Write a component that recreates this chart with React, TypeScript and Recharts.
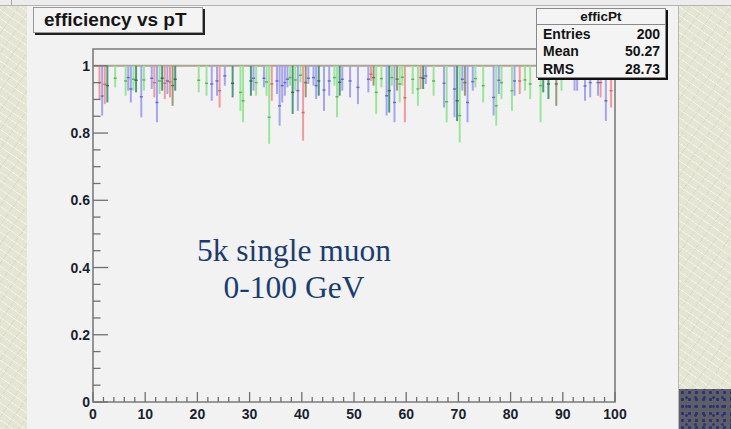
import React from 'react';
import { ComposedChart, XAxis, YAxis, Scatter, ErrorBar, ReferenceLine, ReferenceArea } from 'recharts';

// [bin centre pT, lower error end, efficiency]
type Bin = [number, number, number];

const redBins: Bin[] = [
  [1.25, 0.901, 0.95], [2.25, 0.886, 0.945], [11.75, 0.906, 0.95], [13.75, 0.901, 0.948],
  [14.75, 0.906, 0.952], [24.25, 0.876, 0.926], [34.25, 0.896, 0.946], [40.25, 0.777, 0.861],
  [53.25, 0.955, 0.975], [59.75, 0.832, 0.905], [62.75, 0.931, 0.965], [81.75, 0.916, 0.955],
  [96.25, 0.97, 0.985], [97.25, 0.906, 0.95], [99.25, 0.876, 0.926],
];

const greenBins: Bin[] = [
  [4.25, 0.936, 0.963], [6.25, 0.911, 0.955], [7.75, 0.926, 0.96], [9.75, 0.926, 0.958],
  [12.75, 0.916, 0.955], [20.25, 0.921, 0.957], [21.75, 0.911, 0.948], [28.25, 0.866, 0.921],
  [28.75, 0.832, 0.896], [31.25, 0.911, 0.95], [33.25, 0.911, 0.952], [33.75, 0.768, 0.847],
  [37.75, 0.941, 0.965], [38.75, 0.926, 0.958], [39.75, 0.951, 0.972], [46.25, 0.941, 0.965],
  [46.75, 0.847, 0.908], [54.25, 0.857, 0.921], [55.25, 0.936, 0.962], [57.25, 0.941, 0.965],
  [58.75, 0.891, 0.946], [59.25, 0.941, 0.966], [61.25, 0.916, 0.96], [62.25, 0.881, 0.931],
  [65.25, 0.911, 0.955], [67.75, 0.832, 0.893], [70.25, 0.772, 0.852], [73.25, 0.936, 0.962],
  [74.75, 0.891, 0.941], [77.25, 0.822, 0.881], [78.25, 0.901, 0.95], [80.25, 0.866, 0.926],
  [82.75, 0.926, 0.958], [83.75, 0.901, 0.946], [85.75, 0.832, 0.941], [89.75, 0.926, 0.96],
];

const blueBins: Bin[] = [
  [1.75, 0.852, 0.91], [6.75, 0.926, 0.965], [7.25, 0.891, 0.931], [9.25, 0.847, 0.908],
  [11.25, 0.931, 0.963], [12.25, 0.832, 0.891], [14.25, 0.916, 0.955], [22.75, 0.896, 0.946],
  [23.75, 0.911, 0.955], [25.25, 0.941, 0.97], [30.75, 0.926, 0.963], [32.75, 0.936, 0.963],
  [35.25, 0.916, 0.955], [35.75, 0.822, 0.881], [36.25, 0.891, 0.941], [36.75, 0.911, 0.95],
  [37.25, 0.936, 0.96], [39.25, 0.866, 0.926], [41.25, 0.946, 0.963], [42.25, 0.941, 0.965],
  [42.75, 0.901, 0.941], [44.25, 0.866, 0.928], [45.25, 0.911, 0.955], [47.75, 0.926, 0.96],
  [49.25, 0.906, 0.955], [50.75, 0.886, 0.936], [52.75, 0.921, 0.96], [56.25, 0.852, 0.911],
  [57.75, 0.832, 0.891], [63.75, 0.946, 0.97], [67.25, 0.876, 0.948], [69.25, 0.847, 0.931],
  [70.75, 0.926, 0.96], [71.75, 0.832, 0.891], [72.75, 0.926, 0.953], [76.75, 0.852, 0.906],
  [77.75, 0.916, 0.957], [80.75, 0.911, 0.955], [92.25, 0.926, 0.965], [92.75, 0.926, 0.96],
  [94.25, 0.896, 0.94], [95.25, 0.906, 0.95], [96.75, 0.911, 0.95], [98.25, 0.836, 0.896],
];

const tealBins: Bin[] = [
  [2.75, 0.891, 0.941], [8.25, 0.921, 0.957], [13.25, 0.926, 0.963], [15.75, 0.926, 0.96],
  [26.75, 0.906, 0.948], [30.25, 0.911, 0.955], [38.25, 0.857, 0.921], [43.25, 0.911, 0.955],
  [47.25, 0.911, 0.951], [56.75, 0.861, 0.926], [63.25, 0.931, 0.963], [69.75, 0.836, 0.896],
  [86.25, 0.921, 0.96], [87.25, 0.901, 0.946],
];

const oliveBins: Bin[] = [
  [15.25, 0.881, 0.941], [40.75, 0.906, 0.95], [53.75, 0.941, 0.965], [58.25, 0.926, 0.96],
  [71.25, 0.911, 0.95], [88.75, 0.881, 0.946],
];

const xTicks = [0, 2, 4, 6, 8, 10, 12, 14, 16, 18, 20, 22, 24, 26, 28, 30, 32, 34, 36, 38, 40, 42, 44, 46, 48, 50,
  52, 54, 56, 58, 60, 62, 64, 66, 68, 70, 72, 74, 76, 78, 80, 82, 84, 86, 88, 90, 92, 94, 96, 98, 100];
const yTicks = [0, 0.05, 0.1, 0.15, 0.2, 0.25, 0.3, 0.35, 0.4, 0.45, 0.5, 0.55, 0.6, 0.65, 0.7, 0.75, 0.8, 0.85,
  0.9, 0.95, 1];
const yLabels: Record<string, string> = { '0': '0', '0.2': '0.2', '0.4': '0.4', '0.6': '0.6', '0.8': '0.8', '1': '1' };

const statsRows: [string, string][] = [['Entries', '200'], ['Mean', '50.27'], ['RMS', '28.73']];

const toPoints = (bins: Bin[]) => bins.map(([x, lo, y]) => ({ x, y, err: [y - lo, 1 - y] }));

const FONT = '"Liberation Sans", Arial, sans-serif';
const TICK_COLOR = '#707070';
const LABEL_COLOR = '#1a1f30';

const renderXTick = (props: any) => {
  const { x, y, payload } = props;
  const v = payload.value;
  const major = v % 10 === 0;
  return (
    <g key={`xt-${v}`}>
      <line x1={x} x2={x} y1={y} y2={y - (major ? 10 : 5)} stroke={TICK_COLOR} strokeWidth={1.3} />
      {major && (
        <text x={x} y={y + 12} textAnchor="middle" dominantBaseline="central" fontFamily={FONT}
          fontSize={14} fontWeight="bold" fill={LABEL_COLOR}>{String(v)}</text>
      )}
    </g>
  );
};

const renderYTick = (props: any) => {
  const { x, y, payload } = props;
  const v = payload.value;
  const key = String(Math.round(v * 100) / 100);
  const label = yLabels[key];
  return (
    <g key={`yt-${key}`}>
      <line x1={x} x2={x + (label ? 15 : 7.5)} y1={y} y2={y} stroke={TICK_COLOR} strokeWidth={1.3} />
      {label && (
        <text x={x - 3} y={y} textAnchor="end" dominantBaseline="central" fontFamily={FONT}
          fontSize={14} fontWeight="bold" fill={LABEL_COLOR}>{label}</text>
      )}
    </g>
  );
};

const makeMarker = (color: string) => (p: any) => (
  <line x1={p.cx - 1.5} x2={p.cx + 1.5} y1={p.cy} y2={p.cy} stroke={color} strokeWidth={1.5} />
);

const series = [
  { name: 'red', bins: redBins, stroke: '#f29a9a', marker: '#d86a6a' },
  { name: 'green', bins: greenBins, stroke: '#98e698', marker: '#5ab85a' },
  { name: 'blue', bins: blueBins, stroke: '#a4a4f2', marker: '#6a6ad0' },
  { name: 'teal', bins: tealBins, stroke: '#4c9a7c', marker: '#2e6e56' },
  { name: 'olive', bins: oliveBins, stroke: '#9a9a78', marker: '#6e6e50' },
];

const cream = {
  backgroundColor: '#e5e5d4',
  backgroundImage:
    'repeating-linear-gradient(35deg, rgba(255,255,250,0.45) 0 1px, transparent 1px 7px),' +
    'repeating-linear-gradient(-55deg, rgba(190,190,165,0.25) 0 1px, transparent 1px 11px)',
};

export default function App() {
  return (
    <div style={{ position: 'absolute', left: 0, top: 0, width: 731, height: 429, overflow: 'hidden', ...cream }}>
      {/* top band */}
      <div style={{ position: 'absolute', left: 0, top: 0, width: 731, height: 5, background: '#ececec',
        borderBottom: '1px solid #b4b4b4' }} />
      <div style={{ position: 'absolute', left: 11, top: 0, width: 1, height: 5, background: '#a8a8a8' }} />
      {/* main panel */}
      <div style={{ position: 'absolute', left: 27, top: 6, width: 651, height: 423, background: '#f2f2f2',
        borderRight: '1px solid #b8b8b8' }} />
      {/* bottom right dark pattern */}
      <div style={{ position: 'absolute', left: 679, top: 389, width: 52, height: 40, backgroundColor: '#5e5e68',
        backgroundImage: 'radial-gradient(circle, #2c3272 1.3px, transparent 1.9px), radial-gradient(circle, #30366e 1.1px, transparent 1.7px)',
        backgroundSize: '7px 7px, 9px 9px', backgroundPosition: '0 0, 3px 4px' }} />

      <div style={{ position: 'absolute', left: 0, top: 0 }}>
        <ComposedChart width={731} height={429} margin={{ top: 49, right: 116, bottom: 0, left: 53 }}>
          <XAxis dataKey="x" type="number" domain={[0, 100]} ticks={xTicks} interval={0} height={27}
            tickSize={0} tickMargin={0} axisLine={false} tickLine={false} tick={renderXTick} allowDataOverflow />
          <YAxis type="number" domain={[0, 1.05]} ticks={yTicks} interval={0} width={40}
            tickSize={0} tickMargin={0} axisLine={false} tickLine={false} tick={renderYTick} allowDataOverflow />
          <ReferenceArea x1={0} x2={100} y1={0} y2={1.05} fill="none" stroke="#7c7c7c" strokeWidth={1.6}
            fillOpacity={0} ifOverflow="visible" />
          <ReferenceLine y={1} stroke="#aaa48c" strokeWidth={2} ifOverflow="visible" />
          {series.map((s) => (
            <Scatter key={s.name} data={toPoints(s.bins)} dataKey="y" isAnimationActive={false}
              shape={makeMarker(s.marker)}>
              <ErrorBar dataKey="err" direction="y" width={0} stroke={s.stroke} strokeWidth={2}
                isAnimationActive={false} />
            </Scatter>
          ))}
        </ComposedChart>
      </div>

      {/* annotation */}
      <div style={{ position: 'absolute', left: 154, top: 232, width: 280, textAlign: 'center',
        fontFamily: '"Liberation Serif", "Times New Roman", serif', fontSize: 31.5, lineHeight: '37px',
        color: '#1b3c70' }}>
        <div>5k single muon</div>
        <div>0-100 GeV</div>
      </div>

      {/* title box */}
      <div style={{ position: 'absolute', left: 33, top: 7, width: 168, height: 24, background: '#f4f4f4',
        border: '1px solid #9a9a9a', boxShadow: '2px 2px 0 #222', fontFamily: FONT, fontWeight: 'bold',
        fontSize: 19, lineHeight: '24px', color: '#161616', boxSizing: 'content-box' }}>
        <span style={{ position: 'absolute', left: 10, top: 0 }}>efficiency vs pT</span>
      </div>

      {/* stats box */}
      <div style={{ position: 'absolute', left: 536, top: 8, width: 128, height: 68, background: '#f4f4f4',
        border: '1px solid #8a8a8a', boxShadow: '2px 2px 0 #111', fontFamily: FONT, fontWeight: 'bold',
        fontSize: 14, color: '#141414' }}>
        <div style={{ height: 15, lineHeight: '16px', textAlign: 'center', borderBottom: '1px solid #8a8a8a',
          fontSize: 13.5 }}>efficPt</div>
        {statsRows.map(([k, v]) => (
          <div key={k} style={{ display: 'flex', justifyContent: 'space-between', padding: '0 5px 0 6px',
            height: 17.3, lineHeight: '18px' }}>
            <span>{k}</span><span>{v}</span>
          </div>
        ))}
      </div>
    </div>
  );
}
